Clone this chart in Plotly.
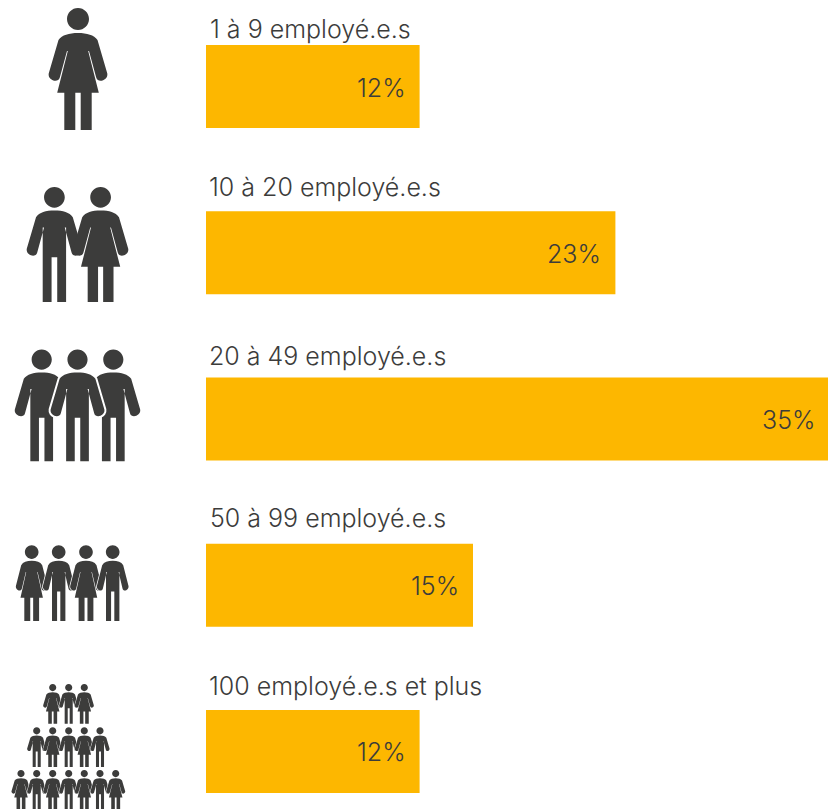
import plotly.graph_objects as go

categories = ["1 à 9 employé.e.s", "10 à 20 employé.e.s", "20 à 49 employé.e.s",
              "50 à 99 employé.e.s", "100 employé.e.s et plus"]
values = [12, 23, 35, 15, 12]
value_labels = ["12%", "23%", "35%", "15%", "12%"]

W, H = 828, 809
BAR = "#FDB700"
DARK = "#3C3C3B"
FONT = "Inter"
PX_PER_PCT = 17.8

label_left = [208, 207, 207, 208, 207]
label_mid = [29, 187, 356, 518, 686]


def px(x):
    return round(x / W, 6)


def py(y):
    return round(1 - y / H, 6)


def pt(x, y):
    return f"{px(x)},{py(y)}"


def person(kind, cx, top, s, left_arm=True, right_arm=True, narrow=1.0):
    """SVG path of one pictogram figure in paper coordinates."""
    def H_(x, y):
        return pt(cx + x * s, top + y * s)

    def P(x, y):
        return pt(cx + x * s * narrow, top + y * s)

    def side(sign, arm):
        out = [f"C{P(sign*9,25)} {P(sign*16,27)} {P(sign*19.5,32)}"]
        if arm:
            out += [f"L{P(sign*29.3,65.5)}",
                    f"C{P(sign*30.5,72)} {P(sign*20,76)} {P(sign*18.2,69.5)}",
                    f"L{P(sign*11,43)}"]
        else:
            out += [f"L{P(sign*12.4,62)}"]
        return out

    d = []
    r = 11
    k = 0.5523 * r
    d.append(f"M{H_(0,0)} C{H_(k,0)} {H_(r,r-k)} {H_(r,r)} C{H_(r,r+k)} {H_(k,2*r)} {H_(0,2*r)} "
             f"C{H_(-k,2*r)} {H_(-r,r+k)} {H_(-r,r)} C{H_(-r,r-k)} {H_(-k,0)} {H_(0,0)} Z")
    right = side(1, right_arm)
    d.append(f"M{P(0,25)} " + " ".join(right))
    if kind == "W":
        d.append(f"L{P(10.2,43)} L{P(20.8,84.7)} L{P(13.7,84.7)} L{P(13.7,122)} L{P(2.7,122)} "
                 f"L{P(2.7,84.7)} L{P(-2.7,84.7)} L{P(-2.7,122)} L{P(-13.7,122)} L{P(-13.7,84.7)} "
                 f"L{P(-20.8,84.7)} L{P(-10.2,43)}")
    else:
        d.append(f"L{P(12.4,43)} L{P(12.4,122)} L{P(3,122)} L{P(3,74.5)} L{P(-3,74.5)} "
                 f"L{P(-3,122)} L{P(-12.4,122)} L{P(-12.4,43)}")
    if left_arm:
        d.append(f"L{P(-11,43)} L{P(-18.2,69.5)} C{P(-20,76)} {P(-30.5,72)} {P(-29.3,65.5)} "
                 f"L{P(-19.5,32)}")
    else:
        d.append(f"L{P(-12.4,62)} L{P(-19.5,32)}")
    d.append(f"C{P(-16,27)} {P(-9,25)} {P(0,25)} Z")
    return " ".join(d)


# (kind, centre x, head top, scale, white halo, left arm, right arm, horizontal narrowing)
figures = [
    ("W", 78, 8, 1.0, 0, True, True, 1.0),
    ("M", 54.4, 187, 0.943, 0, True, True, 1.0),
    ("W", 100.6, 187, 0.943, 0, True, True, 1.0),
    ("M", 41.7, 349.5, 0.917, 0, True, False, 1.0),
    ("M", 113.3, 349.5, 0.917, 0, False, True, 1.0),
    ("M", 77.5, 349.5, 0.917, 4, True, True, 1.0),
    ("W", 31.7, 545.3, 0.62, 1.4, True, True, 0.87),
    ("M", 58.7, 545.3, 0.62, 1.4, True, True, 0.87),
    ("W", 86, 545.3, 0.62, 1.4, True, True, 0.87),
    ("M", 112.7, 545.3, 0.62, 1.4, True, True, 0.87),
]
for cx, kind in zip([52.7, 68.7, 84.3], "WMW"):
    figures.append((kind, cx, 684, 0.325, 0.8, True, True, 1.0))
for cx, kind in zip([36.7, 52.7, 68.7, 84.3, 100], "MWMWM"):
    figures.append((kind, cx, 727.3, 0.325, 0.8, True, True, 1.0))
for cx, kind in zip([21, 36.7, 52.7, 68.7, 84.3, 100, 115.7], "WMWMWMW"):
    figures.append((kind, cx, 770, 0.325, 0.8, True, True, 1.0))

shapes = []
for kind, cx, top, s, halo, la, ra, nar in figures:
    path = person(kind, cx, top, s, la, ra, nar)
    if halo:
        shapes.append(dict(type="path", xref="paper", yref="paper", path=path,
                           fillcolor="white", line=dict(color="white", width=halo),
                           layer="above"))
    shapes.append(dict(type="path", xref="paper", yref="paper", path=path,
                       fillcolor=DARK, line=dict(width=0), layer="above"))

fig = go.Figure(go.Bar(
    x=values, y=categories, orientation="h", width=0.5,
    marker=dict(color=BAR, line=dict(width=0)),
    hoverinfo="skip",
))

annotations = []
for cat, left, mid in zip(categories, label_left, label_mid):
    annotations.append(dict(text=cat, xref="paper", yref="paper", x=px(left), y=py(mid),
                            xanchor="left", yanchor="middle", showarrow=False,
                            font=dict(family=FONT, size=25, color=DARK, weight=300)))
for cat, val, lab in zip(categories, values, value_labels):
    annotations.append(dict(text=lab, xref="x", yref="y", x=val - 12 / PX_PER_PCT, y=cat, yshift=-1,
                            xanchor="right", yanchor="middle", showarrow=False,
                            font=dict(family=FONT, size=25, color=DARK, weight=300)))

fig.update_layout(
    width=W, height=H, autosize=False,
    margin=dict(l=0, r=0, t=0, b=0),
    paper_bgcolor="white", plot_bgcolor="white",
    showlegend=False, shapes=shapes, annotations=annotations,
    xaxis=dict(range=[-206 / PX_PER_PCT, 622 / PX_PER_PCT], visible=False, fixedrange=True),
    yaxis=dict(type="category", categoryorder="array", categoryarray=categories,
               range=[4.3459, -0.5203], visible=False, fixedrange=True),
)
fig.write_html("out.html", config=dict(displayModeBar=False),
               post_script="document.body.style.margin='0';document.documentElement.style.overflow='hidden';")
